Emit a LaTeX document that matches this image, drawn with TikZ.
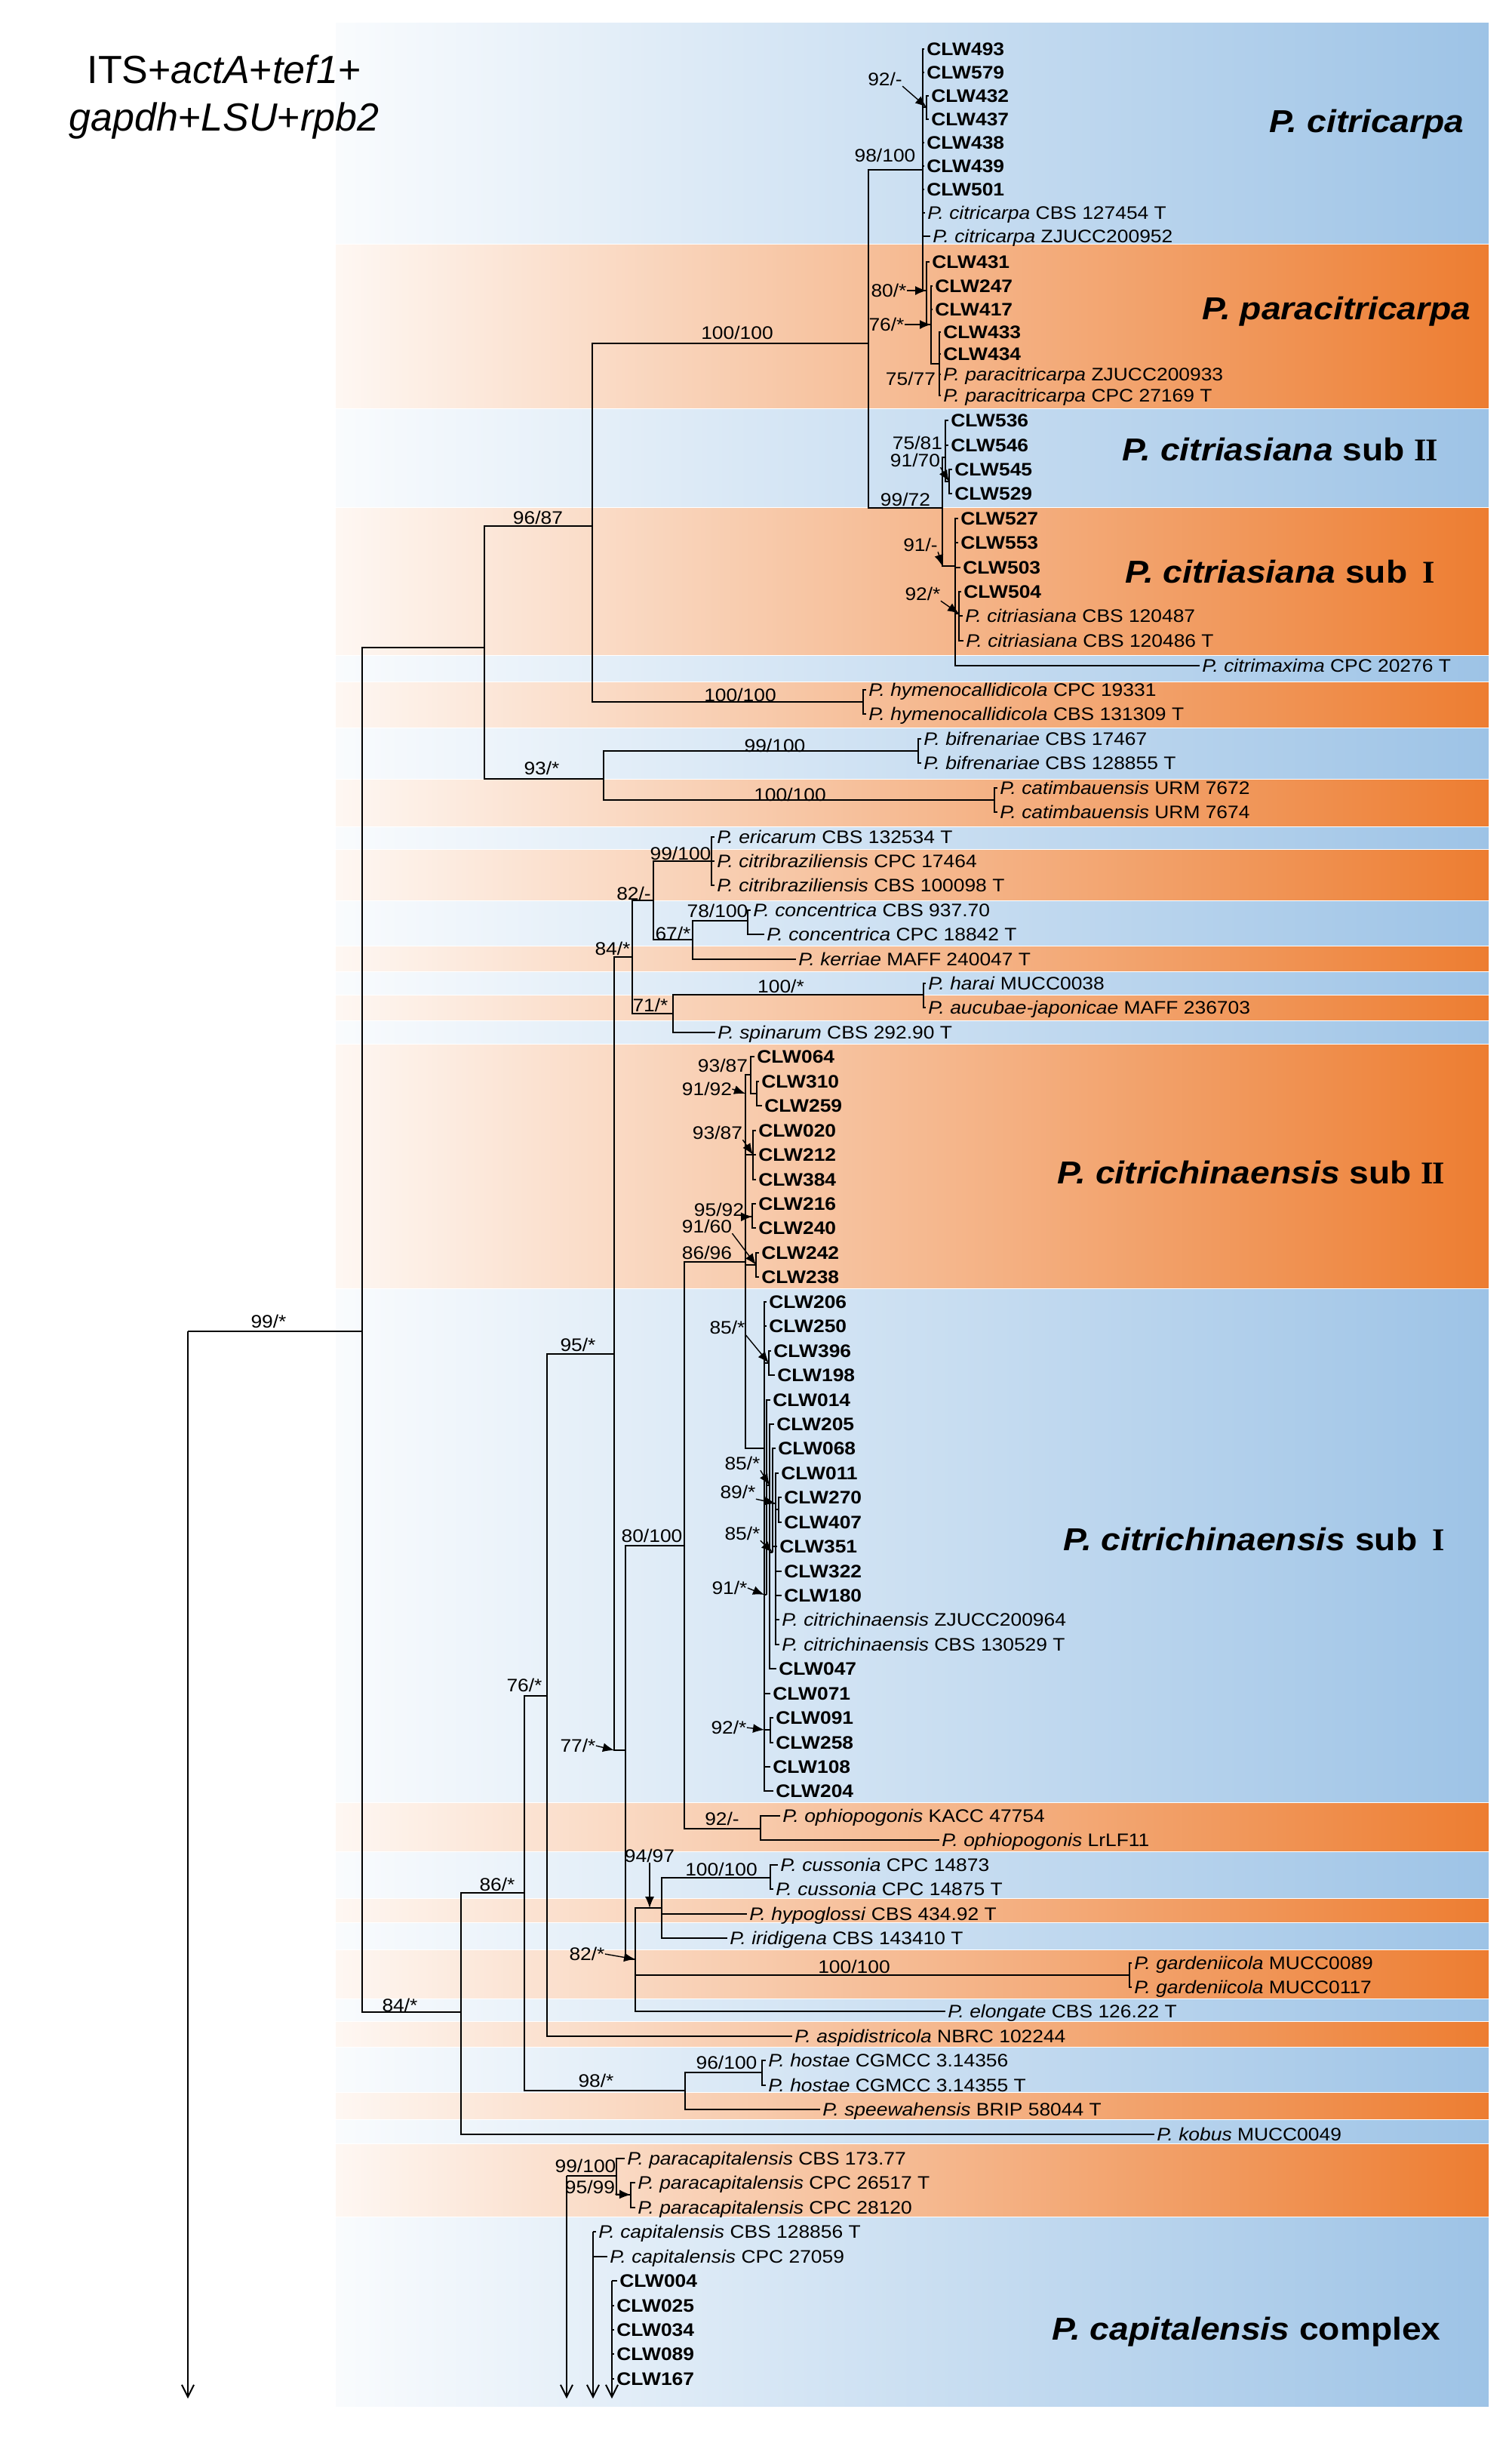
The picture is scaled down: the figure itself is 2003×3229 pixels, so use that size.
\documentclass[tikz,border=0pt]{standalone}
\usepackage{fontspec}
\setmainfont{Liberation Sans}
\newfontfamily\treefont[FakeStretch=1.1]{Liberation Sans}
\newfontfamily\romanfont{Liberation Serif}
\usetikzlibrary{arrows.meta}

\begin{document}
\begin{tikzpicture}[x=0.5pt, y=-0.5pt,
  branch/.style={line width=1pt},
  taxon/.style={anchor=west, inner xsep=1.5pt, inner ysep=0pt, text height=9pt, text depth=0.4pt, font=\treefont\fontsize{12}{14}\selectfont},
  strain/.style={taxon, font=\treefont\fontsize{12}{14}\selectfont\bfseries},
  support/.style={inner sep=0pt, font=\treefont\fontsize{12}{14}\selectfont},
  pointer/.style={line width=0.7pt, -{Latex[length=7.5pt,width=6pt]}},
  offpage/.style={line width=1pt, -{Straight Barb[length=8pt,width=8pt]}},
  clade/.style={anchor=base east, inner sep=0pt, font=\treefont\fontsize{21}{24}\selectfont\bfseries},
]
  \definecolor{bandB}{HTML}{9DC3E6}
  \definecolor{bandO}{HTML}{ED7D31}
  \fill[white] (0,0) rectangle (2003,3229);
  \useasboundingbox (0,0) rectangle (2003,3229);
  \foreach \ya/\yb/\col in {29/323/bandB, 323/541/bandO, 541/672/bandB, 672/868/bandO,
    868/903/bandB, 903/964/bandO, 964/1032/bandB, 1032/1095/bandO, 1095/1125/bandB,
    1125/1193/bandO, 1193/1253/bandB, 1253/1287/bandO, 1287/1318/bandB, 1318/1352/bandO,
    1352/1383/bandB, 1383/1707/bandO, 1707/2388/bandB, 2388/2453/bandO, 2453/2515/bandB,
    2515/2547/bandO, 2547/2583/bandB, 2583/2648/bandO, 2648/2678/bandB, 2678/2712/bandO,
    2712/2772/bandB, 2772/2808/bandO, 2808/2840/bandB, 2840/2937/bandO, 2937/3189/bandB}
    \shade[left color=\col!6, middle color=\col!65, right color=\col] (445,\ya+1) rectangle (1973,\yb-1);

  \node[anchor=base, font=\fontsize{26}{30}\selectfont] (title1) at (297,110) {ITS+\textit{actA}+\textit{tef1}+};
  \node[anchor=base, font=\fontsize{26}{30}\selectfont] (title2) at (297,173) {\textit{gapdh}+\textit{LSU}+\textit{rpb2}};

  \foreach \nm/\px/\py in {493/1225/65, 579/1225/96, 432/1231/127, 437/1231/158, 438/1225/189,
    439/1225/220, 501/1225/251, 431/1232/347, 247/1236/379, 417/1236/410, 433/1247/440,
    434/1247/469, 536/1257/557, 546/1257/590, 545/1262/622, 529/1262/654, 527/1270/687,
    553/1270/719, 503/1273/752, 504/1274/784, 064/1000/1400, 310/1006/1433, 259/1010/1465,
    020/1002/1498, 212/1002/1530, 384/1002/1563, 216/1002/1595, 240/1002/1627, 242/1006/1660,
    238/1006/1692, 206/1016/1725, 250/1016/1757, 396/1022/1790, 198/1027/1822, 014/1021/1855,
    205/1026/1887, 068/1028/1919, 011/1032/1952, 270/1036/1984, 407/1036/2017, 351/1030/2049,
    322/1036/2082, 180/1036/2114, 047/1029/2211, 071/1021/2244, 091/1025/2276, 258/1025/2309,
    108/1021/2341, 204/1025/2373, 004/818/3022, 025/814/3055, 034/814/3087, 089/814/3119,
    167/814/3152}
    \node[strain] (c\nm) at (\px,\py) {CLW\nm};

  \foreach \nm/\px/\py/\sp/\id in {citA/1226/282/citricarpa/CBS 127454 T,
    citB/1233/313/citricarpa/ZJUCC200952,
    pcitA/1247/496/paracitricarpa/ZJUCC200933,
    pcitB/1247/524/paracitricarpa/CPC 27169 T,
    casA/1276/816/citriasiana/CBS 120487,
    casB/1277/849/citriasiana/CBS 120486 T,
    cmax/1590/882/citrimaxima/CPC 20276 T,
    hymA/1148/914/hymenocallidicola/CPC 19331,
    hymB/1148/946/hymenocallidicola/CBS 131309 T,
    bifA/1221/979/bifrenariae/CBS 17467,
    bifB/1221/1011/bifrenariae/CBS 128855 T,
    catA/1322/1044/catimbauensis/URM 7672,
    catB/1322/1076/catimbauensis/URM 7674,
    eri/947/1109/ericarum/CBS 132534 T,
    cbrA/947/1141/citribraziliensis/CPC 17464,
    cbrB/947/1173/citribraziliensis/CBS 100098 T,
    conA/995/1206/concentrica/CBS 937.70,
    conB/1013/1238/concentrica/CPC 18842 T,
    ker/1055/1271/kerriae/MAFF 240047 T,
    har/1227/1303/harai/MUCC0038,
    auc/1227/1335/aucubae-japonicae/MAFF 236703,
    spi/948/1368/spinarum/CBS 292.90 T,
    cchA/1033/2146/citrichinaensis/ZJUCC200964,
    cchB/1033/2179/citrichinaensis/CBS 130529 T,
    ophA/1034/2406/ophiopogonis/KACC 47754,
    ophB/1245/2438/ophiopogonis/LrLF11,
    cusA/1031/2471/cussonia/CPC 14873,
    cusB/1025/2503/cussonia/CPC 14875 T,
    hyp/990/2536/hypoglossi/CBS 434.92 T,
    iri/964/2568/iridigena/CBS 143410 T,
    garA/1500/2601/gardeniicola/MUCC0089,
    garB/1500/2633/gardeniicola/MUCC0117,
    elo/1253/2665/elongate/CBS 126.22 T,
    asp/1050/2698/aspidistricola/NBRC 102244,
    hosA/1015/2730/hostae/CGMCC 3.14356,
    hosB/1015/2763/hostae/CGMCC 3.14355 T,
    spe/1087/2795/speewahensis/BRIP 58044 T,
    kob/1530/2828/kobus/MUCC0049,
    pcapA/828/2860/paracapitalensis/CBS 173.77,
    pcapB/842/2892/paracapitalensis/CPC 26517 T,
    pcapC/842/2925/paracapitalensis/CPC 28120,
    capA/790/2957/capitalensis/CBS 128856 T,
    capB/805/2990/capitalensis/CPC 27059}
    \node[taxon] (\nm) at (\px,\py) {\textit{P. \sp} \id};

  \foreach \nm/\px/\py in {rootN/249/1764, A/480/1764, B/642/858, C/785/697, E/1151/455,
    F/1223/225, n92/1228/142, n80/1228/385, n76/1234/430, n75/1245/482, H/1249/673,
    S/1253/606, S2/1258/638, K/1266/750, L/1271/813, hym/1144/930, D/800/1032,
    bif/1217/995, cat/1318/1060, M/611/2666, N/695/2508, P/725/2247, Q/814/1794,
    R/838/1268, S82/866/1193, n9910/943/1141, n67/918/1245, n78/991/1220, T/892/1343,
    n100s/1224/1318, U/829/2319, X/907/2048, Y/988/1672, g1/995/1424, g1b/1003/1449,
    g2/998/1530, g3/997/1612, g4/1002/1676, Z/1013/1919, z1/1019/1806, z2/1016/2113,
    z3/1020/1968, z4/1024/2057, z5/1028/1992, z6/1032/2000, z8/1021/2292, oph/1008/2423,
    V/842/2596, W/877/2528, cus/1021/2488, gar/1497/2617, O/908/2770, hos/1010/2746,
    pcapN/817/2883, n9599/836/2908, downA/751/2883, capL/786/2957, clwL/811/3022,
    rootEnd/249/3178, downEnd/751/3178, capEnd/786/3178, clwEnd/811/3178}
    \coordinate (\nm) at (\px,\py);

  \foreach \pa/\ch in {rootN/A, A/B, A/M, B/C, B/D, C/E, C/hym, E/F, E/H,
    F/c493, F/c579, F/n92, F/c438, F/c439, F/c501, F/citA, F/citB, F/n80,
    n92/c432, n92/c437, n80/c431, n80/n76, n76/c247, n76/c417, n76/n75,
    n75/c433, n75/c434, n75/pcitA, n75/pcitB,
    H/S, H/K, S/c536, S/c546, S/S2, S2/c545, S2/c529,
    K/c527, K/c553, K/c503, K/L, K/cmax, L/c504, L/casA, L/casB,
    hym/hymA, hym/hymB, D/bif, D/cat, bif/bifA, bif/bifB, cat/catA, cat/catB,
    M/N, M/kob, N/P, N/O, P/Q, P/asp, Q/R, Q/U, R/S82, R/T,
    S82/n9910, S82/n67, n9910/eri, n9910/cbrA, n9910/cbrB, n67/n78, n67/ker, n78/conA, n78/conB,
    T/n100s, T/spi, n100s/har, n100s/auc,
    U/X, U/V, X/Y, X/oph, Y/g1, Y/g2, Y/g3, Y/g4, Y/Z,
    g1/c064, g1/g1b, g1b/c310, g1b/c259, g2/c020, g2/c212, g2/c384, g3/c216, g3/c240, g4/c242, g4/c238,
    Z/c206, Z/c250, Z/z1, Z/z2, Z/c071, Z/z8, Z/c108, Z/c204,
    z1/c396, z1/c198, z2/c014, z2/z3, z3/c205, z3/z4, z3/c047, z4/c068, z4/z5, z4/c351,
    z5/c011, z5/z6, z5/c322, z5/c180, z5/cchA, z5/cchB, z6/c270, z6/c407, z8/c091, z8/c258,
    oph/ophA, oph/ophB, V/W, V/gar, V/elo, W/cus, W/hyp, W/iri, cus/cusA, cus/cusB,
    gar/garA, gar/garB, O/hos, O/spe, hos/hosA, hos/hosB,
    downA/pcapN, pcapN/pcapA, pcapN/n9599, n9599/pcapB, n9599/pcapC,
    capL/capA, capL/capB, clwL/c004, clwL/c025, clwL/c034, clwL/c089, clwL/c167}
    \draw[branch] (\pa) |- (\ch);

  \foreach \pa/\ch in {rootN/rootEnd, downA/downEnd, capL/capEnd, clwL/clwEnd}
    \draw[offpage] (\pa) -- (\ch);

  \foreach \nm/\px/\py/\val in {n92/1173/105/{92/-}, F/1173/206/{98/100}, n80/1178/385/{80/*},
    n76/1175/430/{76/*}, n75/1207/502/{75/77}, E/977/441/{100/100}, S/1216/587/{75/81},
    S2/1213/610/{91/70}, H/1200/662/{99/72}, K/1220/722/{91/-}, L/1223/787/{92/*},
    C/713/686/{96/87}, hym/981/921/{100/100}, bif/1027/988/{99/100}, D/718/1018/{93/*},
    cat/1047/1053/{100/100}, n9910/902/1131/{99/100}, S82/840/1184/{82/-},
    n78/951/1207/{78/100}, n67/892/1237/{67/*}, R/812/1257/{84/*}, T/862/1332/{71/*},
    n100s/1035/1307/{100/*}, g1/958/1412/{93/87}, g1b/937/1443/{91/92}, g2/951/1501/{93/87},
    g3/953/1603/{95/92}, g4/937/1625/{91/60}, Y/937/1660/{86/96}, Q/766/1782/{95/*},
    z1/964/1759/{85/*}, z3/984/1939/{85/*}, z5/978/1977/{89/*}, z4/984/2032/{85/*},
    z2/967/2104/{91/*}, X/864/2035/{80/100}, z8/966/2289/{92/*}, A/356/1751/{99/*},
    P/695/2233/{76/*}, U/766/2313/{77/*}, N/659/2497/{86/*}, M/530/2657/{84/*},
    W/861/2459/{94/97}, V/778/2589/{82/*}, O/790/2757/{98/*}, oph/957/2410/{92/-},
    cus/956/2477/{100/100}, gar/1132/2606/{100/100}, hos/963/2733/{96/100},
    pcapN/776/2870/{99/100}, n9599/782/2898/{95/99}}
    \node[support] (l\nm) at (\px,\py) {\val};

  \foreach \nm/\an/\tg in {n92/south east/n92, n80/east/n80, n76/east/n76, S2/south east/S2,
    K/south east/{H |- K}, L/south east/L, g1b/east/{Y |- g1b}, g2/south east/g2,
    g3/south east/g3, g4/south east/g4, z1/south east/z1, z3/south east/z3,
    z5/south east/z5, z4/south east/z4, z2/east/{Z |- z2}, z8/east/{Z |- z8},
    U/east/{Q |- U}, V/east/V, n9599/south east/n9599}
    \draw[pointer] (l\nm.\an) -- (\tg);
  \draw[pointer] (lW.south) -- (lW.south |- W);

  \node[clade] (cladeA) at (1941,175) {\itshape P. citricarpa};
  \node[clade] (cladeB) at (1950,423) {\itshape P. paracitricarpa};
  \node[clade] (cladeC) at (1906,610) {{\itshape P. citriasiana} sub {\romanfont I\kern-0.04em I}};
  \node[clade] (cladeD) at (1902,772) {{\itshape P. citriasiana} sub\, {\romanfont I}};
  \node[clade] (cladeE) at (1915,1568) {{\itshape P. citrichinaensis} sub {\romanfont I\kern-0.04em I}};
  \node[clade] (cladeF) at (1915,2054) {{\itshape P. citrichinaensis} sub\, {\romanfont I}};
  \node[clade] (cladeG) at (1910,3100) {{\itshape P. capitalensis} complex};
\end{tikzpicture}
\end{document}
